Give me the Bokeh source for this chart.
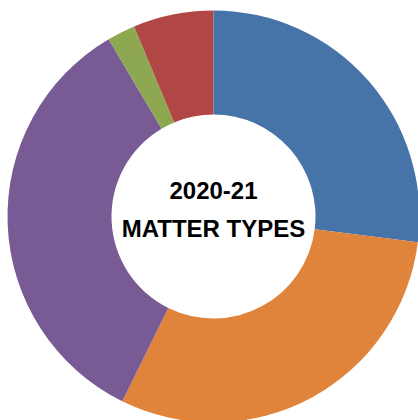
import math
from bokeh.plotting import figure
from bokeh.models import ColumnDataSource, Range1d
from bokeh.core.properties import value
from bokeh.embed import file_html
from bokeh.resources import INLINE

categories = ["Type A", "Type B", "Type C", "Type D", "Type E"]
shares = [27.0, 30.3, 34.2, 2.2, 6.3]
colors = ["#4674A8", "#E0843C", "#785A94", "#8EA852", "#B04744"]
title_lines = ["2020-21", "MATTER TYPES"]

W, H = 418, 420
cx, cy = 213, H - 216
R_OUT, R_IN = 206, 102

total = sum(shares)
starts, ends = [], []
acc = 0.0
for s in shares:
    a0 = math.pi / 2 - (acc + s) / total * 2 * math.pi
    a1 = math.pi / 2 - acc / total * 2 * math.pi
    starts.append(a0)
    ends.append(a1)
    acc += s

src = ColumnDataSource(dict(cat=categories, share=shares, color=colors,
                            start=starts, end=ends,
                            x=[cx] * len(shares), y=[cy] * len(shares)))

p = figure(width=W, height=H, output_backend="svg", toolbar_location=None,
           x_range=Range1d(0, W), y_range=Range1d(0, H), min_border=0)
p.axis.visible = False
p.grid.visible = False
p.outline_line_color = None
p.background_fill_color = "white"
p.border_fill_color = "white"

p.annular_wedge(x="x", y="y", inner_radius=R_IN, outer_radius=R_OUT,
                start_angle="start", end_angle="end", color="color",
                line_color=None, source=src)

tsrc = ColumnDataSource(dict(x=[cx, cx], y=[H - 189.5, H - 228], t=title_lines))
p.text(x="x", y="y", text="t", source=tsrc, text_align="center",
       text_baseline="middle", text_font=value("Liberation Sans"),
       text_font_style="bold", text_font_size="24px", text_color="black")

open("out.html", "w").write(file_html(p, INLINE))
